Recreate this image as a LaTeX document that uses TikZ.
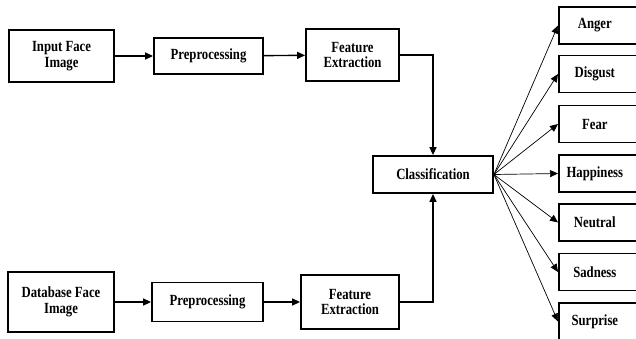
\documentclass[tikz,border=0pt]{standalone}
\usepackage{fontspec}
\setmainfont{Liberation Serif}[FakeStretch=0.82]
\usetikzlibrary{arrows.meta}
\newcommand{\emotxt}[1]{\makebox[72pt]{#1}\hspace{30pt}}
\begin{document}
\begin{tikzpicture}[x=1pt,y=-1pt,
  every node/.style={font=\fontsize{15.5}{15.5}\selectfont\bfseries, align=center, inner sep=0pt},
  blk/.style={draw, line width=1.8pt, rectangle},
  emobox/.style={draw, line width=1.6pt, rectangle, minimum width=102pt, minimum height=37pt, anchor=west},
  flow/.style={line width=1.4pt, -{Triangle[length=8pt,width=7pt]}},
  fan/.style={line width=0.7pt, -{Triangle[length=8pt,width=7pt]}}]
\useasboundingbox (0,0) rectangle (636,338);
\clip (0,0) rectangle (636,338);
% top row
\node[blk, minimum width=105pt, minimum height=52pt] (in1) at (61.5,56) {Input Face\\Image};
\node[blk, minimum width=109pt, minimum height=36pt] (pp1) at (208.5,56) {Preprocessing};
\node[blk, minimum width=93pt, minimum height=52pt] (fe1) at (352.5,55) {Feature\\Extraction};
% bottom row
\node[blk, minimum width=106pt, minimum height=60pt] (in2) at (61,302) {Database Face\\Image};
\node[blk, minimum width=111pt, minimum height=39pt] (pp2) at (207.5,302) {Preprocessing};
\node[blk, minimum width=98pt, minimum height=54pt] (fe2) at (350,302) {Feature\\Extraction};
% classification
\node[blk, minimum width=120pt, minimum height=37pt] (cls) at (433,174.5) {Classification};
% emotions
\node[emobox] (e1) at (558,25.5) {\emotxt{Anger}};
\node[emobox] (e2) at (558,74) {\emotxt{Disgust}};
\node[emobox] (e3) at (558,124) {\emotxt{Fear}};
\node[emobox] (e4) at (558,173.5) {\emotxt{Happiness}};
\node[emobox] (e5) at (558,222.5) {\emotxt{Neutral}};
\node[emobox] (e6) at (558,272) {\emotxt{Sadness}};
\node[emobox] (e7) at (558,321.5) {\emotxt{Surprise}};
% flows
\draw[flow] (in1) -- (pp1);
\draw[flow] (pp1) -- (fe1);
\draw[flow] (in2) -- (pp2);
\draw[flow] (pp2) -- (fe2);
\draw[flow] (fe1.east) -| (cls.north);
\draw[flow] (fe2.east) -| (cls.south);
\foreach \e in {e1,e2,e3,e4,e5,e6,e7}
  \draw[fan] (cls.east) -- (\e.west);
\end{tikzpicture}
\end{document}
